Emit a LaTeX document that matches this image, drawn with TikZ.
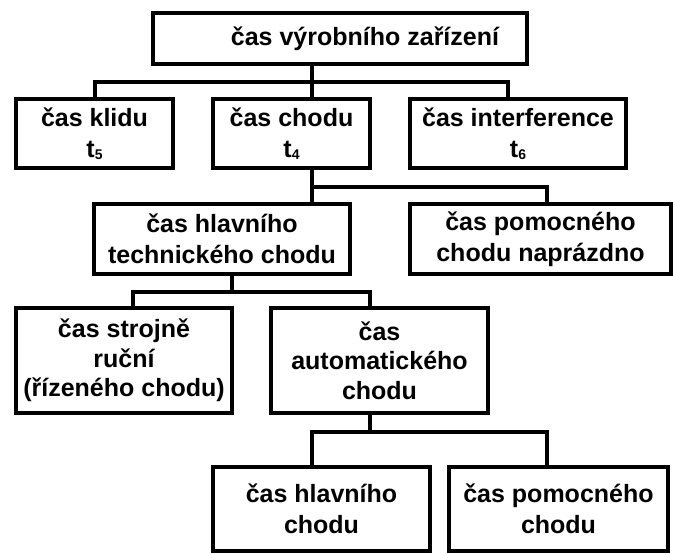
\documentclass[tikz,border=0pt]{standalone}
\usepackage{fontspec}
\setmainfont{Liberation Sans}
\newcommand{\tsub}[1]{t\raisebox{-1.5pt}{\fontsize{14}{14}\selectfont #1}}
\begin{document}
\begin{tikzpicture}[x=1pt, y=-1pt,
  box/.style={draw=black, line width=4.5pt, rectangle, inner sep=0pt, outer sep=0pt,
    align=center, font=\fontsize{25}{31}\selectfont\bfseries},
  tallbox/.style={box, font=\fontsize{25}{29.5}\selectfont\bfseries},
  lbl/.style={inner sep=0pt, font=\fontsize{25}{31}\selectfont\bfseries},
  conn/.style={draw=black, line width=4pt, line join=miter}]
\useasboundingbox[fill=white] (0,0) rectangle (673,554);

% level 0
\node[box, minimum width=374pt, minimum height=51pt] (top) at (340,38.5) {};
\node[lbl] (toptext) at (365,38.5) {čas výrobního zařízení};

% level 1
\node[box, minimum width=157pt, minimum height=69pt] (klidu) at (94.5,133.5) {čas klidu\\\tsub{5}};
\node[box, minimum width=157pt, minimum height=69pt] (chodu) at (291.5,133.5) {čas chodu\\\tsub{4}};
\node[box, minimum width=216pt, minimum height=69pt] (interf) at (518,133.5) {čas interference\\\tsub{6}};

% level 2
\node[box, minimum width=256pt, minimum height=70pt] (hlavtech) at (222,239) {čas hlavního\\technického chodu};
\node[box, minimum width=261pt, minimum height=70pt] (naprazdno) at (540.5,239) {čas pomocného\\chodu naprázdno};

% level 3
\node[tallbox, minimum width=216pt, minimum height=105pt] (strojne) at (124,360.5) {čas strojně\\ruční\\(řízeného chodu)};
\node[tallbox, minimum width=217pt, minimum height=105pt] (auto) at (379.5,360.5) {čas\\automatického\\chodu};

% level 4
\node[box, minimum width=217pt, minimum height=84pt] (hlchodu) at (321.5,509) {čas hlavního\\chodu};
\node[box, minimum width=219pt, minimum height=84pt] (pomchodu) at (558.5,509) {čas pomocného\\chodu};

% junction points of the tree
\coordinate (j1) at (312,82);
\coordinate (j2) at (312,187);
\coordinate (j3) at (232,292);
\coordinate (j4) at (370,432);

% connectors
\draw[conn] (top.south -| j1) -- (j1);
\draw[conn] (klidu.north) |- (j1) -| ([xshift=-10pt]interf.north);
\draw[conn] (j1) -- (chodu.north -| j1);

\draw[conn] (chodu.south -| j2) -- (hlavtech.north -| j2);
\draw[conn] (j2) -| ([xshift=6.5pt]naprazdno.north);

\draw[conn] (hlavtech.south -| j3) -- (j3);
\draw[conn] ([xshift=9pt]strojne.north) |- (j3) -| ([xshift=-9.5pt]auto.north);

\draw[conn] (auto.south -| j4) -- (j4);
\draw[conn] ([xshift=-9.5pt]hlchodu.north) |- (j4) -| ([xshift=-11.5pt]pomchodu.north);
\end{tikzpicture}
\end{document}
